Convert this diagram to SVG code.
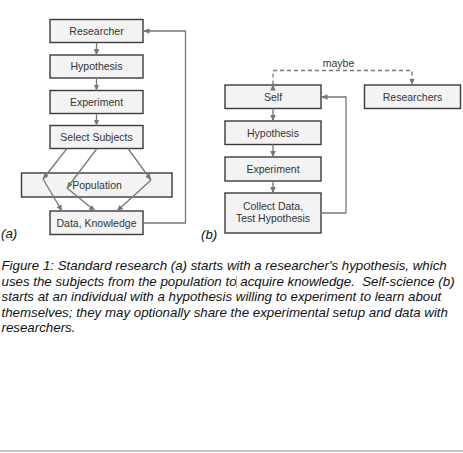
<svg xmlns="http://www.w3.org/2000/svg" width="463" height="453" viewBox="0 0 463 453">
<style>
.box{fill:#f3f3f3;stroke:#3a3a3a;stroke-width:1.4}
.lbl{font-family:"Liberation Sans",Arial,sans-serif;font-size:10.5px;fill:#333;text-anchor:middle}
.con{fill:none;stroke:#777;stroke-width:1.3}
.dash{fill:none;stroke:#777;stroke-width:1.3;stroke-dasharray:4 3}
.cap{font-family:"Liberation Sans",Arial,sans-serif;font-size:13.3px;font-style:italic;fill:#111}
</style>
<defs>
<marker id="ah" markerUnits="userSpaceOnUse" markerWidth="7" markerHeight="7" viewBox="0 0 7 7" refX="6" refY="3.5" orient="auto">
<path d="M0,0.8 L6.5,3.5 L0,6.2 Z" fill="#777"/>
</marker>
</defs>
<rect width="463" height="453" fill="#fff"/>
<g id="a-researcher"><rect class="box" x="50" y="19.5" width="93" height="23"/><text class="lbl" x="96.5" y="34.5">Researcher</text></g>
<g id="a-hypothesis"><rect class="box" x="50" y="55" width="93" height="23"/><text class="lbl" x="96.5" y="70">Hypothesis</text></g>
<g id="a-experiment"><rect class="box" x="50" y="90.5" width="93" height="23"/><text class="lbl" x="96.5" y="105.5">Experiment</text></g>
<g id="a-select"><rect class="box" x="50" y="125.5" width="93" height="23"/><text class="lbl" x="96.5" y="140.5">Select Subjects</text></g>
<g id="a-population"><rect class="box" x="21.5" y="173" width="150.5" height="24"/><text class="lbl" x="97" y="188.5">Population</text></g>
<g id="a-data"><rect class="box" x="50" y="211" width="93" height="23.5"/><text class="lbl" x="96.5" y="226.5">Data, Knowledge</text></g>
<g id="b-self"><rect class="box" x="225" y="85" width="96" height="23.5"/><text class="lbl" x="273" y="100.5">Self</text></g>
<g id="b-hypothesis"><rect class="box" x="225" y="121" width="96" height="23.5"/><text class="lbl" x="273" y="136.5">Hypothesis</text></g>
<g id="b-experiment"><rect class="box" x="225" y="157" width="96" height="24"/><text class="lbl" x="273" y="172.5">Experiment</text></g>
<g id="b-collect"><rect class="box" x="225" y="193" width="96" height="40"/><text class="lbl" x="273" y="209.5">Collect Data,</text><text class="lbl" x="273" y="222">Test Hypothesis</text></g>
<g id="b-researchers"><rect class="box" x="364.5" y="85" width="96" height="23.5"/><text class="lbl" x="412.5" y="100.5">Researchers</text></g>
<g id="connectors">
<line class="con" x1="96.5" y1="42.5" x2="96.5" y2="55" marker-end="url(#ah)"/>
<line class="con" x1="96.5" y1="78" x2="96.5" y2="90.5" marker-end="url(#ah)"/>
<line class="con" x1="96.5" y1="113.5" x2="96.5" y2="125.5" marker-end="url(#ah)"/>
<line class="con" x1="67" y1="148.5" x2="43" y2="179" marker-end="url(#ah)"/>
<line class="con" x1="43" y1="179" x2="62" y2="211" marker-end="url(#ah)"/>
<line class="con" x1="97" y1="148.5" x2="67" y2="188" marker-end="url(#ah)"/>
<line class="con" x1="67" y1="188" x2="95" y2="211" marker-end="url(#ah)"/>
<line class="con" x1="128" y1="148.5" x2="151" y2="180" marker-end="url(#ah)"/>
<line class="con" x1="151" y1="180" x2="117" y2="211" marker-end="url(#ah)"/>
<polyline class="con" points="143,223 185.5,223 185.5,31 143.5,31" marker-end="url(#ah)"/>
<line class="con" x1="273" y1="108.5" x2="273" y2="121" marker-end="url(#ah)"/>
<line class="con" x1="273" y1="144.5" x2="273" y2="157" marker-end="url(#ah)"/>
<line class="con" x1="273" y1="181" x2="273" y2="193" marker-end="url(#ah)"/>
<polyline class="con" points="321,213 346,213 346,97 321.5,97" marker-end="url(#ah)"/>
<polyline class="dash" points="273,84.5 273,70.5 412,70.5 412,84.5" marker-start="url(#ah)" marker-end="url(#ah)"/>
<text class="lbl" x="338.5" y="66.5">maybe</text>
</g>
<g id="labels">
<text class="cap" x="1" y="238">(a)</text>
<text class="cap" x="201" y="239">(b)</text>
</g>
<g id="caption">
<text class="cap" x="1.5" y="270">Figure 1: Standard research (a) starts with a researcher's hypothesis, which</text>
<text class="cap" x="1.5" y="285.5">uses the subjects from the population to acquire knowledge. &#160;Self-science (b)</text>
<text class="cap" x="1.5" y="301">starts at an individual with a hypothesis willing to experiment to learn about</text>
<text class="cap" x="1.5" y="316.5">themselves; they may optionally share the experimental setup and data with</text>
<text class="cap" x="1.5" y="332">researchers.</text>
</g>
<line x1="236.5" y1="276" x2="236.5" y2="288" stroke="#bbb" stroke-width="1"/>
<line x1="0" y1="451" x2="463" y2="451" stroke="#b3b3b3" stroke-width="1.5"/>
</svg>
